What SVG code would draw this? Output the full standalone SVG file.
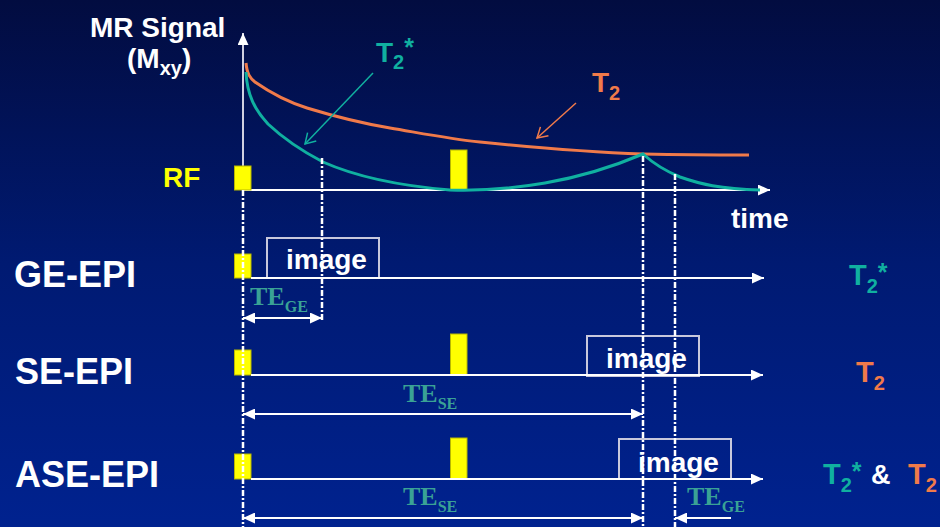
<svg xmlns="http://www.w3.org/2000/svg" width="940" height="527" viewBox="0 0 940 527">
<defs>
<linearGradient id="bg" x1="0" y1="0" x2="0" y2="1">
<stop offset="0" stop-color="#020c40"/>
<stop offset="0.5" stop-color="#001a72"/>
<stop offset="1" stop-color="#00228f"/>
</linearGradient>
<marker id="ah" markerUnits="userSpaceOnUse" markerWidth="13" markerHeight="11" refX="12" refY="5.5" orient="auto-start-reverse">
<path d="M0,0 L12,5.5 L0,11 z" fill="#ffffff"/>
</marker>
<marker id="ahTeal" markerUnits="userSpaceOnUse" markerWidth="14" markerHeight="14" refX="12" refY="7" orient="auto">
<path d="M2,1 L12,7 L2,13" fill="none" stroke="#10b0a0" stroke-width="1.5"/>
</marker>
<marker id="ahOrange" markerUnits="userSpaceOnUse" markerWidth="14" markerHeight="14" refX="12" refY="7" orient="auto">
<path d="M2,1 L12,7 L2,13" fill="none" stroke="#f07a4a" stroke-width="1.5"/>
</marker>
</defs>
<style>
.lbl{font-family:"Liberation Sans",Arial,sans-serif;font-weight:bold;fill:#ffffff}
.big{font-size:36px}
.med{font-size:28px}
.te{font-family:"Liberation Serif","Times New Roman",serif;font-weight:bold;fill:#3aa295;font-size:26px}
.sub16{font-size:16px}
.rf{fill:#ffff00;stroke:#b8b800;stroke-width:1}
.base{stroke:#ffffff;stroke-width:2;fill:none}
.box{fill:none;stroke:#c8c8dc;stroke-width:2}
.dash{stroke:#ffffff;stroke-width:2.5;stroke-dasharray:6 2 2 2;fill:none}
</style>
<rect x="0" y="0" width="940" height="527" fill="url(#bg)"/>

<!-- top graph -->
<g id="graph">
<text class="lbl med" x="90" y="37">MR Signal</text>
<text class="lbl med" x="127" y="68">(M<tspan font-size="20" dy="7">xy</tspan><tspan dy="-7">)</tspan></text>
<text class="lbl med" x="163" y="187" style="fill:#ffff00">RF</text>
<text class="lbl med" x="731" y="228">time</text>
<line x1="243" y1="190" x2="243" y2="33" stroke="#d0d0e0" stroke-width="2" marker-end="url(#ah)"/>
<line x1="243" y1="190" x2="770" y2="190" class="base" marker-end="url(#ah)"/>
<rect class="rf" x="234.5" y="166" width="16.5" height="24"/>
<rect class="rf" x="450.5" y="150" width="16.5" height="40"/>
<path d="M246,63 C247,74 250,78 255,82 C265,89 285,101 307,108 C330,115 360,123 390,128 C420,133 450,139 480,142 C540,148 590,152 643,154 C690,155 720,155 749,155" fill="none" stroke="#f07a4a" stroke-width="3"/>
<path d="M246,72 C247,95 255,110 268,124 C285,140 300,150 323,162 C350,174 390,185 450,190 C480,191 510,189 545,183 C580,177 610,168 643,154 C655,165 668,172 680,177 C700,184 720,189 760,190" fill="none" stroke="#10b0a0" stroke-width="3"/>
<text class="lbl" x="376" y="62" font-size="28" style="fill:#10b0a0">T<tspan font-size="20" dy="7">2</tspan><tspan font-size="25" dy="-13">*</tspan></text>
<line x1="373" y1="73" x2="305" y2="144" stroke="#10b0a0" stroke-width="1.5" marker-end="url(#ahTeal)"/>
<text class="lbl" x="592" y="92" font-size="28" style="fill:#f07a4a">T<tspan font-size="20" dy="8">2</tspan></text>
<line x1="576" y1="103" x2="537" y2="138" stroke="#f07a4a" stroke-width="1.5" marker-end="url(#ahOrange)"/>
</g>

<!-- GE-EPI -->
<g id="ge-epi">
<text class="lbl big" x="14" y="287">GE-EPI</text>
<rect class="rf" x="234.5" y="254" width="16.5" height="24"/>
<rect class="box" x="267" y="238" width="112" height="40"/>
<text class="lbl med" x="286" y="269">image</text>
<line x1="251" y1="278" x2="764" y2="278" class="base" marker-end="url(#ah)"/>
<text class="lbl" x="849" y="285" font-size="29" style="fill:#10b0a0">T<tspan font-size="20" dy="8">2</tspan><tspan font-size="25" dy="-12">*</tspan></text>
<text class="te" x="250" y="305">TE<tspan class="sub16" dy="7">GE</tspan></text>
</g>

<!-- SE-EPI -->
<g id="se-epi">
<text class="lbl big" x="15" y="384">SE-EPI</text>
<rect class="rf" x="234.5" y="350" width="16.5" height="25"/>
<rect class="rf" x="450.5" y="334" width="16.5" height="41"/>
<rect class="box" x="587" y="336" width="112" height="40"/>
<text class="lbl med" x="606" y="368">image</text>
<line x1="251" y1="375" x2="763" y2="375" class="base" marker-end="url(#ah)"/>
<text class="lbl" x="856" y="382" font-size="29" style="fill:#f07a4a">T<tspan font-size="20" dy="8">2</tspan></text>
<text class="te" x="403" y="402">TE<tspan class="sub16" dy="7">SE</tspan></text>
</g>

<!-- ASE-EPI -->
<g id="ase-epi">
<text class="lbl big" x="15" y="487">ASE-EPI</text>
<rect class="rf" x="234.5" y="454" width="16.5" height="25"/>
<rect class="rf" x="450.5" y="438" width="16.5" height="41"/>
<rect class="box" x="619" y="439" width="112" height="40"/>
<text class="lbl med" x="638" y="472">image</text>
<line x1="251" y1="479" x2="763" y2="479" class="base" marker-end="url(#ah)"/>
<text class="lbl" x="823" y="484" font-size="29" style="fill:#10b0a0">T<tspan font-size="20" dy="8">2</tspan><tspan font-size="25" dy="-12">*</tspan></text>
<text class="lbl" x="871" y="484" font-size="27">&amp;</text>
<text class="lbl" x="908" y="484" font-size="29" style="fill:#f07a4a">T<tspan font-size="20" dy="8">2</tspan></text>
<text class="te" x="403" y="505">TE<tspan class="sub16" dy="7">SE</tspan></text>
<text class="te" x="687" y="505">TE<tspan class="sub16" dy="7">GE</tspan></text>
</g>

<!-- connectors -->
<g id="connectors">
<line class="dash" x1="243" y1="190" x2="243" y2="527"/>
<line class="dash" x1="322" y1="158" x2="322" y2="321"/>
<line class="dash" x1="643" y1="156" x2="643" y2="527"/>
<line class="dash" x1="675" y1="174" x2="675" y2="527"/>
<line class="base" x1="243" y1="318" x2="322" y2="318" marker-start="url(#ah)" marker-end="url(#ah)"/>
<line class="base" x1="243" y1="414" x2="643" y2="414" marker-start="url(#ah)" marker-end="url(#ah)"/>
<line class="base" x1="243" y1="518" x2="643" y2="518" marker-start="url(#ah)" marker-end="url(#ah)"/>
<line class="base" x1="731" y1="518" x2="675" y2="518" marker-end="url(#ah)"/>
</g>
</svg>
